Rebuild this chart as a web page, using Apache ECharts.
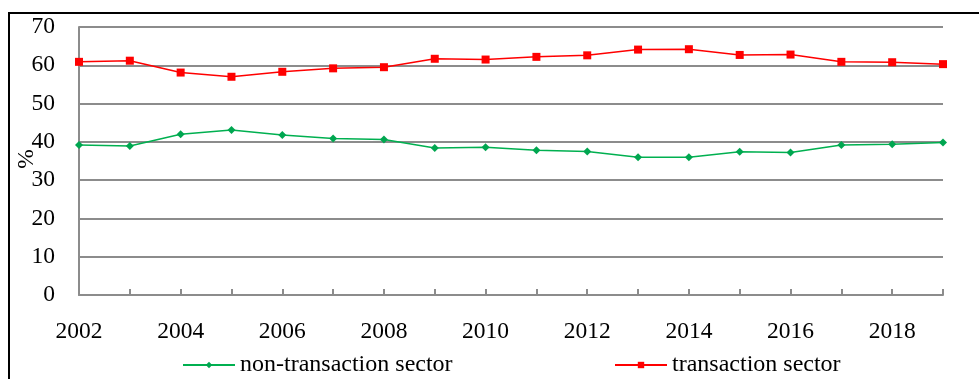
<!DOCTYPE html>
<html>
<head>
<meta charset="utf-8">
<script src="https://cdn.jsdelivr.net/npm/echarts@6/dist/echarts.min.js"></script>
<style>
html,body{margin:0;padding:0;background:#fff;}
#chart{width:979px;height:379px;}
</style>
</head>
<body>
<div id="chart"></div>
<script>
// Years on the category axis
const years = ['2002','2003','2004','2005','2006','2007','2008','2009','2010','2011','2012','2013','2014','2015','2016','2017','2018','2019'];
// Shares (%) by sector
const nonTransaction = [39.2,38.9,42.0,43.1,41.8,40.9,40.6,38.4,38.6,37.8,37.5,36.0,36.0,37.4,37.2,39.2,39.4,39.8];
const transaction = [60.9,61.2,58.1,57.0,58.3,59.2,59.5,61.7,61.5,62.2,62.6,64.1,64.2,62.7,62.8,60.9,60.8,60.3];
const yTicks = {min: 0, max: 70, interval: 10};
const yUnit = '%';

const FONT = '"Liberation Serif","Times New Roman",serif';
const GRID_COLOR = '#8c8c8c';
const FS = 23.5;

const chart = echarts.init(document.getElementById('chart'), null, {renderer: 'canvas'});
chart.setOption({
  animation: false,
  backgroundColor: '#fff',
  textStyle: {fontFamily: FONT},
  graphic: [{
    type: 'rect',
    shape: {x: 9, y: 13, width: 1000, height: 400},
    style: {fill: 'none', stroke: '#000', lineWidth: 2},
    silent: true
  }, {
    // vertical unit label beside the value axis
    type: 'text',
    x: 27, y: 159,
    rotation: Math.PI / 2,
    style: {text: yUnit, font: FS + 'px ' + FONT, fill: '#000', align: 'center', verticalAlign: 'middle'},
    silent: true
  }],
  grid: {left: 79, right: 36, top: 27, bottom: 84, containLabel: false, outerBoundsMode: 'none'},
  legend: [{
    data: ['non-transaction sector'],
    left: 182, top: 353, padding: 0,
    itemWidth: 52, itemHeight: 8, itemGap: 6,
    textStyle: {fontFamily: FONT, fontSize: 24, color: '#000'}
  }, {
    data: ['transaction sector'],
    left: 614, top: 353, padding: 0,
    itemWidth: 52, itemHeight: 8, itemGap: 6,
    textStyle: {fontFamily: FONT, fontSize: 24, color: '#000'}
  }],
  xAxis: {
    type: 'category',
    data: years,
    boundaryGap: false,
    axisLine: {lineStyle: {color: GRID_COLOR, width: 2}},
    axisTick: {show: true, inside: true, length: 6, interval: 0, lineStyle: {color: GRID_COLOR, width: 2}},
    axisLabel: {interval: 1, margin: 25, fontSize: FS, color: '#000', fontFamily: FONT},
    splitLine: {show: false}
  },
  yAxis: {
    type: 'value',
    min: yTicks.min, max: yTicks.max, interval: yTicks.interval,
    axisLine: {show: true, lineStyle: {color: GRID_COLOR, width: 2}},
    axisTick: {show: false},
    axisLabel: {margin: 24, fontSize: FS, color: '#000', fontFamily: FONT},
    splitLine: {show: true, lineStyle: {color: GRID_COLOR, width: 2}}
  },
  series: [{
    name: 'non-transaction sector',
    type: 'line',
    data: nonTransaction,
    symbol: 'diamond',
    symbolSize: 8,
    showAllSymbol: true,
    itemStyle: {color: '#00a650'},
    lineStyle: {color: '#00b050', width: 1.5}
  }, {
    name: 'transaction sector',
    type: 'line',
    data: transaction,
    symbol: 'rect',
    symbolSize: 8,
    showAllSymbol: true,
    itemStyle: {color: '#ff0000'},
    lineStyle: {color: '#ff0000', width: 1.5}
  }]
});
</script>
</body>
</html>
